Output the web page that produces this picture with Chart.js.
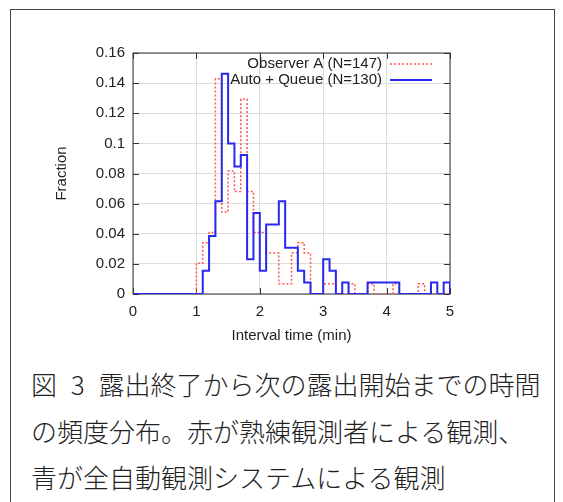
<!DOCTYPE html>
<html>
<head>
<meta charset="utf-8">
<script src="https://cdn.jsdelivr.net/npm/chart.js@4"></script>
<style>
  body { margin: 0; background: #fff; }
  #frame { position: absolute; left: 10px; top: 9px; width: 543px; height: 520px;
           border: 1.5px solid #444; border-bottom: none; }
  #wrap { position: absolute; left: 0; top: 0; width: 563px; height: 350px; }
  #caption { position: absolute; left: 31px; top: 361px; font-family: "Noto Sans CJK JP", sans-serif;
             font-size: 26px; line-height: 46.5px; color: #222; font-weight: 300; white-space: nowrap; }
  #caption .first { word-spacing: 8px; }
</style>
</head>
<body>
<div id="frame"></div>
<div id="wrap"><canvas id="myChart"></canvas></div>
<div id="caption">
  <div class="first">図 3 露出終了から次の露出開始までの時間</div>
  <div>の頻度分布。赤が熟練観測者による観測、</div>
  <div>青が全自動観測システムによる観測</div>
</div>
<script>
// histogram bins, 0.1 min wide (left edges)
var binStart = [0.0,0.1,0.2,0.3,0.4,0.5,0.6,0.7,0.8,0.9,
                1.0,1.1,1.2,1.3,1.4,1.5,1.6,1.7,1.8,1.9,
                2.0,2.1,2.2,2.3,2.4,2.5,2.6,2.7,2.8,2.9,
                3.0,3.1,3.2,3.3,3.4,3.5,3.6,3.7,3.8,3.9,
                4.0,4.1,4.2,4.3,4.4,4.5,4.6,4.7,4.8,4.9];
var binEnd = 5.0;

// counts per bin
var observerN = 147;
var observerCounts = [0,0,0,0,0,0,0,0,0,0,
                      3,5,6,21,8,12,10,19,10,6,
                      6,4,4,1,1,4,5,4,0,0,
                      1,1,0,0,1,0,0,1,0,0,
                      0,1,0,0,0,1,0,0,0,0];
var autoN = 130;
var autoCounts = [0,0,0,0,0,0,0,0,0,0,
                  0,2,5,8,19,13,11,12,3,7,
                  2,6,6,8,4,4,2,1,0,0,
                  3,2,0,1,0,0,0,1,1,1,
                  1,1,0,0,0,0,0,1,0,1];

var xTicks = [0, 1, 2, 3, 4, 5];
var yTicks = [0, 0.02, 0.04, 0.06, 0.08, 0.1, 0.12, 0.14, 0.16];
var yTickLabels = ['0','0.02','0.04','0.06','0.08','0.1','0.12','0.14','0.16'];

var observerLabel = 'Observer A (N=' + observerN + ')';
var autoLabel = 'Auto + Queue (N=' + autoN + ')';

function steps(counts, n) {
    var pts = binStart.map(function(x, i) { return {x: x, y: counts[i] / n}; });
    pts.push({x: binEnd, y: 0});
    return pts;
}

var FONT = {family: 'Liberation Sans, Arial, sans-serif', size: 15};
var RED = 'rgb(255,85,85)';
var BLUE = 'rgb(40,40,240)';

var gnuplotFrame = {
    id: 'gnuplotFrame',
    beforeDatasetsDraw: function(chart) {
        var ctx = chart.ctx, a = chart.chartArea, x = chart.scales.x, y = chart.scales.y;
        ctx.save();
        ctx.strokeStyle = '#333';
        ctx.lineWidth = 1;
        ctx.strokeRect(a.left, a.top, a.right - a.left, a.bottom - a.top);
        ctx.beginPath();
        x.ticks.forEach(function(t) {
            var px = Math.round(x.getPixelForValue(t.value)) + 0.5;
            ctx.moveTo(px, a.bottom); ctx.lineTo(px, a.bottom - 6);
            ctx.moveTo(px, a.top); ctx.lineTo(px, a.top + 6);
        });
        y.ticks.forEach(function(t) {
            var py = Math.round(y.getPixelForValue(t.value)) + 0.5;
            ctx.moveTo(a.left, py); ctx.lineTo(a.left + 6, py);
            ctx.moveTo(a.right, py); ctx.lineTo(a.right - 6, py);
        });
        ctx.stroke();
        ctx.restore();
    },
    afterDatasetsDraw: function(chart) {
        var ctx = chart.ctx;
        var rows = [
            {text: observerLabel, color: RED, dash: [2, 2], width: 1.5, y: 64},
            {text: autoLabel, color: BLUE, dash: [], width: 2, y: 80}
        ];
        ctx.save();
        ctx.font = FONT.size + 'px ' + FONT.family;
        ctx.textAlign = 'right';
        ctx.textBaseline = 'middle';
        rows.forEach(function(r) {
            ctx.fillStyle = '#222';
            ctx.fillText(r.text, 382, r.y);
            ctx.beginPath();
            ctx.strokeStyle = r.color;
            ctx.lineWidth = r.width;
            ctx.setLineDash(r.dash);
            ctx.moveTo(390, r.y); ctx.lineTo(432, r.y);
            ctx.stroke();
        });
        ctx.restore();
    }
};

var ctx = document.getElementById('myChart').getContext('2d');
var chart = new Chart(ctx, {
    type: 'line',
    data: {
        datasets: [{
            label: autoLabel,
            data: steps(autoCounts, autoN),
            borderColor: BLUE,
            borderWidth: 2,
            stepped: 'before',
            pointRadius: 0,
            fill: false,
            order: 0
        }, {
            label: observerLabel,
            data: steps(observerCounts, observerN),
            borderColor: RED,
            borderWidth: 1.5,
            borderDash: [2, 2],
            stepped: 'before',
            pointRadius: 0,
            fill: false,
            order: 1
        }]
    },
    options: {
        responsive: true,
        maintainAspectRatio: false,
        animation: false,
        layout: {padding: {top: 53, right: 113, left: 0, bottom: 0}},
        plugins: {legend: {display: false}, tooltip: {enabled: false}},
        scales: {
            x: {
                type: 'linear',
                min: 0, max: 5,
                afterBuildTicks: function(s) { s.ticks = xTicks.map(function(v) { return {value: v}; }); },
                afterFit: function(s) { s.height = 56; },
                grid: {color: '#dcdcdc', drawTicks: false},
                border: {display: false},
                ticks: {color: '#222', font: FONT, padding: 9, maxRotation: 0},
                title: {display: true, text: 'Interval time (min)', color: '#222', font: FONT,
                        padding: {top: 0, bottom: 5}}
            },
            y: {
                min: 0, max: 0.16,
                afterBuildTicks: function(s) { s.ticks = yTicks.map(function(v) { return {value: v}; }); },
                afterFit: function(s) { s.width = 133; },
                grid: {color: '#dcdcdc', drawTicks: false},
                border: {display: false},
                ticks: {color: '#222', font: FONT, padding: 8,
                        callback: function(v, i) { return yTickLabels[i]; }},
                title: {display: true, text: 'Fraction', color: '#222', font: FONT,
                        padding: {top: 53, bottom: 0}}
            }
        }
    },
    plugins: [gnuplotFrame]
});
</script>
</body>
</html>
